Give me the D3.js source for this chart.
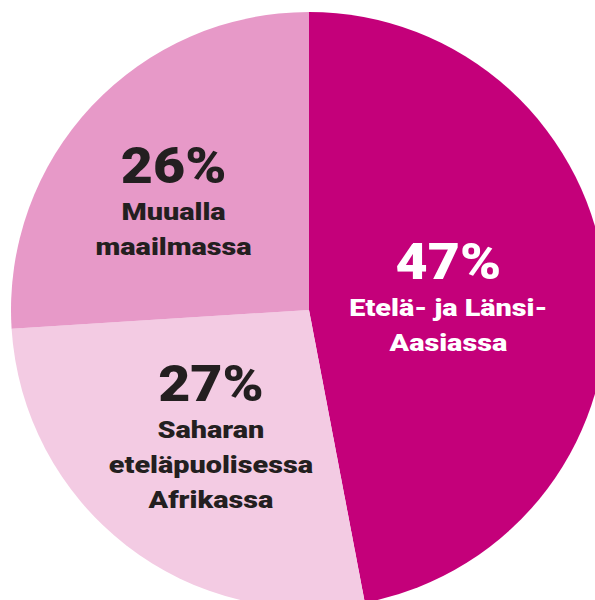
<!DOCTYPE html>
<html>
<head>
<meta charset="utf-8">
<script src="https://cdn.jsdelivr.net/npm/d3@7"></script>
<style>
  html, body { margin: 0; padding: 0; background: #ffffff; }
  svg { display: block; }
  text { font-family: Roboto, "Liberation Sans", sans-serif; font-weight: 900; }
</style>
</head>
<body>
<svg id="chart" width="595" height="600"></svg>
<script>
// Data
const categories = ["Etelä- ja Länsi-Aasiassa", "Saharan eteläpuolisessa Afrikassa", "Muualla maailmassa"];
const values = [47, 27, 26];
const percentLabels = ["47%", "27%", "26%"];
const labelLines = [["Etelä- ja Länsi-", "Aasiassa"], ["Saharan", "eteläpuolisessa", "Afrikassa"], ["Muualla", "maailmassa"]];
const colors = ["#C4007A", "#F3CBE3", "#E799C8"];
const textColors = ["#ffffff", "#231F20", "#231F20"];

// Layout
const W = 595, H = 600;
const cx = 309, cy = 310, R = 298;
const labelRadius = [140, 160, 174];
const labelAngleShift = [0, 0, -0.075];
const pctSize = 50, lblSize = 24;
const pctStretch = 1.11, lblStretch = 1.2;
const pctCap = 36, gapFirst = 37, lineH = 35;

const svg = d3.select("#chart");
const g = svg.append("g").attr("transform", `translate(${cx},${cy})`);

const pie = d3.pie().sort(null).value(d => d)(values);
const arc = d3.arc().innerRadius(0).outerRadius(R);

g.selectAll("path.slice")
  .data(pie)
  .join("path")
  .attr("class", "slice")
  .attr("d", arc)
  .attr("fill", (d, i) => colors[i]);

pie.forEach((d, i) => {
  const a = (d.startAngle + d.endAngle) / 2 + labelAngleShift[i];
  const ax = Math.sin(a) * labelRadius[i];
  const ay = -Math.cos(a) * labelRadius[i];
  const n = labelLines[i].length;
  const blockH = pctCap + gapFirst + lineH * (n - 1);
  const top = ay - blockH / 2;
  const grp = g.append("g").attr("fill", textColors[i]).attr("text-anchor", "middle");
  grp.append("text")
    .attr("transform", `translate(${ax},${top + pctCap}) scale(${pctStretch},1)`)
    .attr("font-size", pctSize)
    .text(percentLabels[i]);
  labelLines[i].forEach((line, j) => {
    grp.append("text")
      .attr("transform", `translate(${ax},${top + pctCap + gapFirst + j * lineH}) scale(${lblStretch},1)`)
      .attr("font-size", lblSize)
      .text(line);
  });
});
</script>
</body>
</html>
